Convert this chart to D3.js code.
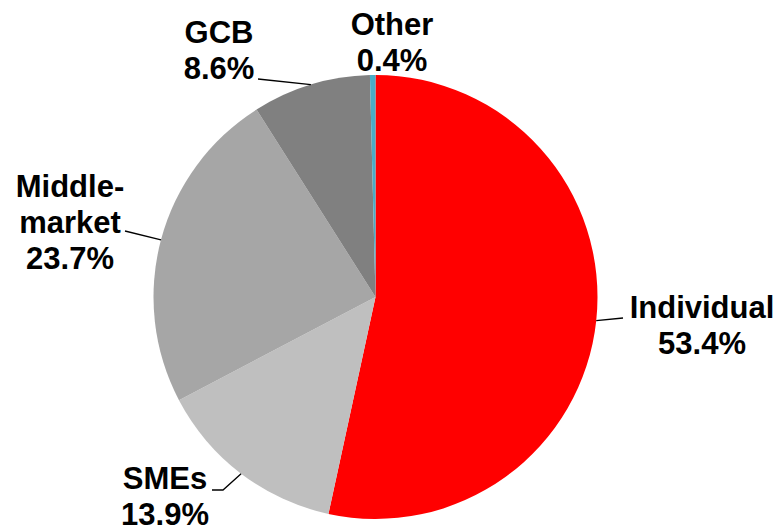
<!DOCTYPE html>
<html>
<head>
<meta charset="utf-8">
<script src="https://cdn.jsdelivr.net/npm/d3@7"></script>
<style>
  html, body { margin: 0; padding: 0; background: #fff; }
  svg { display: block; }
  text { font-family: Arial, "Liberation Sans", sans-serif; font-weight: bold; fill: #000; }
</style>
</head>
<body>
<svg id="chart" width="780" height="529"></svg>
<script>
// Share of loans by client segment (%)
const categories = ["Individual", "SMEs", "Middle-market", "GCB", "Other"];
const values = [53.4, 13.9, 23.7, 8.6, 0.4];
const labelLines = [["Individual"], ["SMEs"], ["Middle-", "market"], ["GCB"], ["Other"]];
const colors = ["#ff0000", "#bfbfbf", "#a6a6a6", "#808080", "#4bacc6"];

const width = 780, height = 529;
const cx = 375.5, cy = 297, radius = 222;
const fontSize = 31, lineHeight = 36;

// Label placement: text centre, first baseline, and leader elbow points
const labelLayout = {
  "Individual":    { x: 702, y: 318, leader: [[623, 318]] },
  "SMEs":          { x: 165, y: 489, leader: [[223, 490], [212, 490]] },
  "Middle-market": { x: 70,  y: 197, leader: [[125, 231]] },
  "GCB":           { x: 219, y: 43,  leader: [[258, 79]] },
  "Other":         { x: 392, y: 35,  leader: null }
};

const svg = d3.select("#chart");
const g = svg.append("g").attr("transform", `translate(${cx},${cy})`);

const pie = d3.pie().sort(null).value(d => d.value);
const arcs = pie(categories.map((c, i) => ({ name: c, value: values[i], lines: labelLines[i], color: colors[i] })));
const arc = d3.arc().innerRadius(0).outerRadius(radius);

g.selectAll("path.slice")
  .data(arcs)
  .join("path")
  .attr("class", "slice")
  .attr("d", arc)
  .attr("fill", d => d.data.color);

// Leader lines from the rim at each slice's mid-angle
const line = d3.line();
arcs.forEach(d => {
  const lay = labelLayout[d.data.name];
  if (!lay.leader) return;
  const a = (d.startAngle + d.endAngle) / 2;
  const rim = [cx + radius * Math.sin(a), cy - radius * Math.cos(a)];
  svg.append("path")
    .attr("d", line([rim, ...lay.leader]))
    .attr("fill", "none")
    .attr("stroke", "#000")
    .attr("stroke-width", 1.3);
});

// Labels: category name lines followed by the percentage
arcs.forEach(d => {
  const lay = labelLayout[d.data.name];
  const rows = [...d.data.lines, d3.format(".1f")(d.data.value) + "%"];
  const t = svg.append("text")
    .attr("text-anchor", "middle")
    .attr("font-size", fontSize);
  rows.forEach((r, i) => {
    t.append("tspan")
      .attr("x", lay.x)
      .attr("y", lay.y + i * lineHeight)
      .text(r);
  });
});
</script>
</body>
</html>
